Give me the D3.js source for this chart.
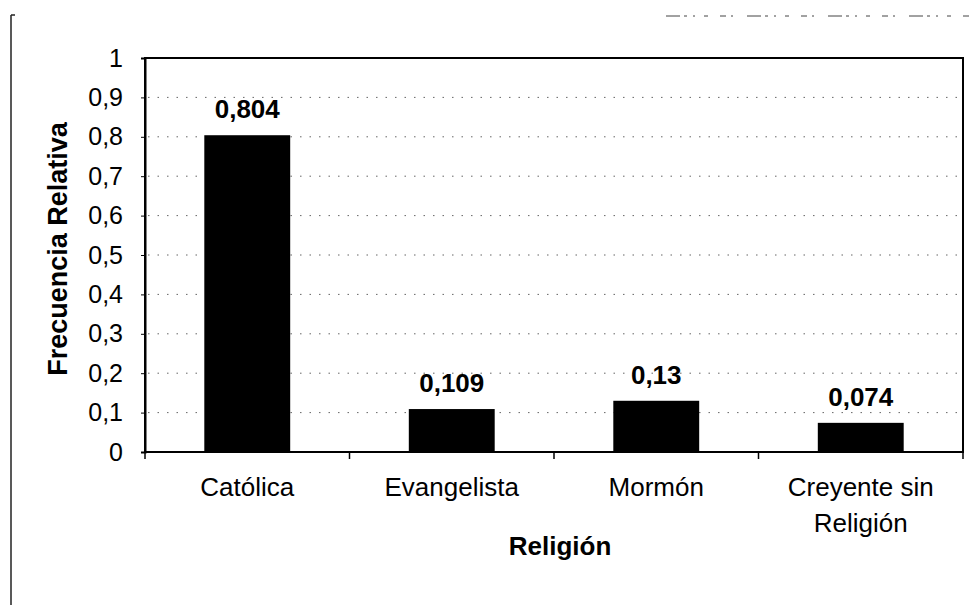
<!DOCTYPE html>
<html>
<head>
<meta charset="utf-8">
<script src="https://cdn.jsdelivr.net/npm/d3@7"></script>
<style>
  body { margin: 0; background: #fff; }
  svg { display: block; font-family: "Liberation Sans", Arial, sans-serif; }
</style>
</head>
<body>
<div id="chart"></div>
<script>
const categories = ["Católica", "Evangelista", "Mormón", "Creyente sin Religión"];
const values = [0.804, 0.109, 0.13, 0.074];
const yTicks = [0, 0.1, 0.2, 0.3, 0.4, 0.5, 0.6, 0.7, 0.8, 0.9, 1];
const xTitle = "Religión";
const yTitle = "Frecuencia Relativa";

const width = 971, height = 605;
const margin = {top: 58, right: 8, bottom: 153, left: 145};

const es = d3.formatLocale({decimal: ",", thousands: ".", grouping: [3], currency: ["", "€"]});
const fmt = es.format("~g");

const svg = d3.select("#chart").append("svg")
    .attr("width", width)
    .attr("height", height);

// scanned page frame
svg.append("line")
    .attr("x1", 11).attr("x2", 11).attr("y1", 15).attr("y2", height)
    .attr("stroke", "#222").attr("stroke-width", 1.5);
svg.append("line")
    .attr("x1", 11).attr("x2", 15).attr("y1", 15).attr("y2", 15)
    .attr("stroke", "#222").attr("stroke-width", 1.5);
svg.append("line")
    .attr("x1", 666).attr("x2", width).attr("y1", 16).attr("y2", 16)
    .attr("stroke", "#444").attr("stroke-width", 1)
    .attr("stroke-dasharray", "14,4,3,6,2,9,4,12,6,5,2,14");

let x = d3.scaleBand()
    .domain(categories)
    .range([margin.left, width - margin.right - 0.5 * 0 - 0])
    .paddingInner(0.58)
    .paddingOuter(0.29);
x.range([margin.left, 963]);

let y = d3.scaleLinear()
    .domain([0, 1])
    .range([height - margin.bottom + 0, margin.top]);
y.range([452, 58]);

const plotL = 145, plotR = 963, plotT = y(1), plotB = y(0);

// dotted grid
svg.append("g")
    .attr("class", "grid")
    .selectAll("line")
    .data(yTicks.filter(d => d > 0 && d < 1))
    .enter().append("line")
    .attr("x1", plotL + 3).attr("x2", plotR - 3)
    .attr("y1", d => y(d)).attr("y2", d => y(d))
    .attr("stroke", "#333")
    .attr("stroke-width", 1)
    .attr("stroke-dasharray", "1.5,8")
    .attr("opacity", 0.75);

// bars
svg.append("g")
    .attr("class", "bars")
    .selectAll("rect")
    .data(values)
    .enter().append("rect")
    .attr("x", (d, i) => x(categories[i]))
    .attr("y", d => y(d))
    .attr("width", x.bandwidth())
    .attr("height", d => y(0) - y(d))
    .attr("fill", "#000");

// value labels
svg.append("g")
    .selectAll("text")
    .data(values)
    .enter().append("text")
    .attr("x", (d, i) => x(categories[i]) + x.bandwidth() / 2)
    .attr("y", d => y(d) - 17)
    .attr("text-anchor", "middle")
    .attr("font-size", 26)
    .attr("font-weight", "bold")
    .text(d => fmt(d));

// plot frame
svg.append("rect")
    .attr("x", plotL).attr("y", plotT)
    .attr("width", plotR - plotL).attr("height", plotB - plotT)
    .attr("fill", "none")
    .attr("stroke", "#000")
    .attr("stroke-width", 2);

// y axis
let yAxis = svg.append("g")
    .attr("transform", "translate(" + plotL + ",0)")
    .call(d3.axisLeft(y).tickValues(yTicks).tickFormat(fmt).tickSize(4).tickPadding(18));
yAxis.select(".domain").attr("stroke-width", 2);
yAxis.selectAll("text")
    .attr("font-size", 25)
    .attr("font-family", "\"Liberation Sans\", Arial, sans-serif")
    .attr("fill", "#000");

// x axis boundary ticks
const gap = x.step() - x.bandwidth();
const bounds = categories.map(c => x(c) - gap / 2).concat([plotR]);
svg.append("g")
    .selectAll("line")
    .data(bounds)
    .enter().append("line")
    .attr("x1", d => d).attr("x2", d => d)
    .attr("y1", plotB).attr("y2", plotB + 7)
    .attr("stroke", "#000").attr("stroke-width", 1.5);

// category labels (wrapped to band step)
let catText = svg.append("g")
    .selectAll("text")
    .data(categories)
    .enter().append("text")
    .attr("x", d => x(d) + x.bandwidth() / 2)
    .attr("y", 496)
    .attr("text-anchor", "middle")
    .attr("font-size", 26)
    .text(d => d);

catText.each(function(d) {
    const t = d3.select(this);
    if (this.getComputedTextLength() <= x.step() - 10) return;
    const words = d.split(" ");
    const last = words.pop();
    t.text(null);
    const cx = t.attr("x");
    t.append("tspan").attr("x", cx).attr("dy", 0).text(words.join(" "));
    t.append("tspan").attr("x", cx).attr("dy", 36).text(last);
});

// axis titles
svg.append("text")
    .attr("x", (plotL + plotR) / 2 + 6)
    .attr("y", 555)
    .attr("text-anchor", "middle")
    .attr("font-size", 26)
    .attr("font-weight", "bold")
    .text(xTitle);

svg.append("text")
    .attr("transform", "translate(67," + 249 + ") rotate(-90)")
    .attr("text-anchor", "middle")
    .attr("font-size", 27)
    .attr("font-weight", "bold")
    .text(yTitle);
</script>
</body>
</html>
